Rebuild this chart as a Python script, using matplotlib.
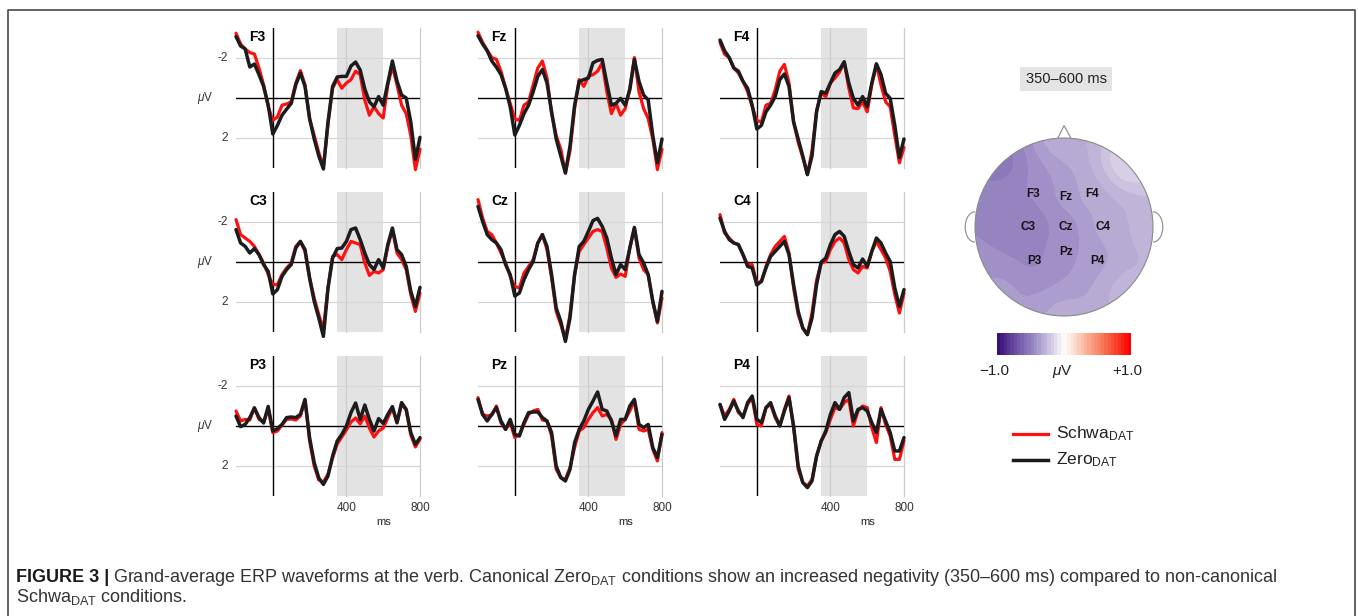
import numpy as np
import matplotlib
matplotlib.use("Agg")
import matplotlib.pyplot as plt
from matplotlib.colors import LinearSegmentedColormap, BoundaryNorm
from matplotlib.patches import Circle, Polygon, Arc
from matplotlib.lines import Line2D
from matplotlib.transforms import blended_transform_factory

plt.rcParams['font.family'] = 'Liberation Sans'
plt.rcParams['mathtext.fontset'] = 'custom'
plt.rcParams['mathtext.rm'] = 'Liberation Sans'
plt.rcParams['mathtext.it'] = 'Liberation Sans:italic'
plt.rcParams['mathtext.bf'] = 'Liberation Sans:bold'

# time axis (ms), one sample every 25 ms
times = np.arange(-200, 801, 25)

# grand averages in microvolts (negative plotted up)
f3_schwa = [-3.24, -2.7, -2.45, -2.27, -2.2, -1.5, -0.66, 0.44, 1.12, 0.95, 0.36, 0.3, 0.19, -0.75, -1.37, -0.66, 1.03, 1.88, 2.73, 3.45, 1.3, -0.49, -0.92, -0.49, -0.75, -0.92, -1.34, -1.17, 0.1, 0.86, 0.44, 0.78, 1.0, -0.66, -1.6, -0.66, 0.36, 0.78, 1.88, 3.58, 2.56]
f3_zero = [-3.07, -2.6, -2.45, -1.55, -1.7, -1.17, -0.58, 0.35, 1.8, 1.37, 0.86, 0.56, 0.27, -0.66, -1.25, -0.58, 1.03, 2.05, 2.9, 3.55, 1.2, -0.58, -1.05, -1.08, -1.08, -1.6, -1.8, -1.4, -0.45, 0.19, 0.44, -0.07, 0.36, -0.75, -1.85, -0.85, -0.15, 0.0, 1.2, 3.07, 1.97]
fz_schwa = [-3.29, -2.78, -2.39, -2.02, -1.93, -1.34, -0.49, 0.27, 1.03, 1.12, 0.36, 0.19, -0.66, -1.5, -1.85, -1.0, 0.78, 1.88, 2.56, 3.75, 2.64, 0.53, -0.92, -0.58, -1.08, -1.17, -1.34, -1.76, -0.32, 0.78, 0.27, 0.86, 0.53, -0.49, -2.02, -0.32, 0.53, 1.03, 2.05, 3.58, 2.56]
fz_zero = [-3.12, -2.7, -2.36, -1.85, -1.54, -1.17, -0.49, 0.44, 1.85, 1.37, 0.78, 0.36, -0.32, -1.08, -1.42, -0.75, 0.69, 2.05, 2.9, 3.75, 2.4, 0.36, -0.83, -0.92, -1.0, -1.76, -1.88, -1.93, -0.75, 0.36, 0.27, 0.02, 0.36, -0.41, -1.93, -0.83, -0.15, 0.1, 1.88, 3.24, 2.05]
f4_schwa = [-2.78, -2.19, -2.02, -1.5, -1.25, -0.83, -0.32, 0.44, 1.12, 1.2, 0.36, 0.27, -0.41, -1.34, -1.68, -0.75, 1.2, 2.22, 2.98, 3.83, 2.64, 0.61, -0.24, -0.07, -0.75, -1.0, -1.3, -1.81, -0.5, 0.5, 0.53, 0.19, 0.69, -0.66, -1.68, -0.66, 0.19, 0.44, 1.88, 3.24, 2.47]
f4_zero = [-2.9, -2.36, -2.02, -1.5, -1.34, -0.83, -0.49, 0.36, 1.55, 1.37, 0.69, 0.36, -0.07, -0.92, -1.2, -0.58, 1.2, 2.05, 2.9, 3.83, 2.9, 0.69, -0.32, -0.24, -0.75, -1.25, -1.42, -1.81, -0.75, 0.02, 0.36, -0.07, 0.44, -0.75, -1.71, -1.17, -0.24, 0.02, 1.37, 2.98, 2.05]
c3_schwa = [-2.12, -1.37, -1.2, -1.03, -0.78, -0.37, 0.05, 0.63, 1.13, 1.13, 0.63, 0.3, 0.05, -0.78, -1.03, -0.53, 0.8, 1.8, 2.63, 3.38, 1.3, -0.28, -0.37, -0.12, -0.62, -1.03, -0.95, -0.87, 0.05, 0.67, 0.47, 0.55, 0.38, -0.78, -1.62, -0.45, -0.12, 0.38, 1.63, 2.47, 1.55]
c3_zero = [-1.62, -0.95, -0.78, -0.45, -0.67, -0.37, 0.13, 0.47, 1.6, 1.38, 0.72, 0.38, 0.13, -0.7, -1.03, -0.62, 0.8, 1.97, 2.8, 3.72, 1.3, -0.2, -0.67, -0.7, -1.03, -1.62, -1.7, -1.12, -0.45, 0.13, 0.38, -0.12, 0.3, -0.87, -1.7, -0.62, -0.37, 0.22, 1.47, 2.22, 1.27]
cz_schwa = [-3.12, -2.2, -1.53, -1.37, -0.95, -0.45, 0.05, 0.72, 1.22, 1.3, 0.55, 0.22, -0.12, -0.95, -1.37, -0.62, 0.8, 2.47, 3.13, 3.88, 2.63, 0.63, -0.53, -0.87, -1.2, -1.53, -1.62, -1.53, -0.7, 0.3, 0.77, 0.6, 0.72, -0.7, -1.7, -0.2, 0.38, 0.63, 1.97, 3.05, 1.8]
cz_zero = [-2.78, -2.03, -1.37, -1.12, -0.95, -0.62, 0.13, 0.63, 1.7, 1.55, 0.88, 0.38, -0.03, -0.95, -1.37, -0.78, 0.63, 2.3, 2.97, 3.97, 2.8, 0.63, -0.78, -1.03, -1.53, -2.07, -2.18, -1.78, -1.2, -0.2, 0.63, 0.13, 0.38, -0.7, -1.73, -0.37, 0.05, 0.63, 1.97, 2.97, 1.47]
c4_schwa = [-2.37, -1.45, -1.2, -0.95, -0.87, -0.37, 0.13, 0.13, 1.05, 0.97, 0.22, -0.37, -0.78, -1.03, -1.28, -0.45, 1.3, 2.63, 3.3, 3.63, 2.55, 0.9, 0.05, -0.03, -0.62, -1.03, -1.2, -0.95, -0.12, 0.38, 0.55, 0.22, 0.3, -0.53, -1.03, -0.62, -0.2, 0.47, 1.63, 2.55, 1.55]
c4_zero = [-2.2, -1.53, -1.12, -0.95, -0.87, -0.37, 0.22, 0.3, 1.15, 0.97, 0.3, -0.28, -0.53, -0.78, -1.03, -0.37, 1.13, 2.47, 3.3, 3.63, 2.8, 1.13, 0.0, -0.2, -0.87, -1.37, -1.53, -1.28, -0.53, 0.13, 0.3, -0.15, 0.22, -0.53, -1.2, -0.95, -0.45, -0.03, 1.3, 2.22, 1.38]
p3_schwa = [-0.75, -0.25, -0.33, -0.3, -0.92, -0.33, -0.2, -0.85, 0.33, 0.25, -0.05, -0.33, -0.35, -0.3, -0.5, -1.3, 0.75, 2.0, 2.7, 2.8, 2.4, 1.6, 0.9, 0.55, 0.2, -0.2, -0.4, -0.1, -0.5, 0.1, 0.55, 0.25, 0.1, -0.4, -0.9, -0.15, -1.1, -0.8, 0.45, 1.05, 0.65]
p3_zero = [-0.5, 0.03, -0.08, -0.42, -0.9, -0.42, -0.15, -0.98, 0.25, 0.13, -0.08, -0.42, -0.45, -0.42, -0.58, -1.33, 0.58, 1.83, 2.6, 2.92, 2.5, 1.5, 0.75, 0.42, 0.0, -0.67, -1.15, -0.33, -1.05, -0.33, 0.25, -0.37, -0.13, -0.58, -0.97, -0.17, -1.17, -0.83, 0.33, 0.92, 0.58]
pz_schwa = [-1.42, -0.58, -0.5, -0.55, -1.0, -0.15, 0.17, -0.17, 0.58, 0.42, -0.08, -0.58, -0.75, -0.83, -0.3, -0.25, 0.5, 2.17, 2.58, 2.67, 2.08, 1.08, 0.25, 0.08, -0.33, -0.67, -0.92, -0.5, -0.58, -0.33, 0.67, -0.08, -0.33, -0.75, -1.25, 0.17, 0.25, 0.17, 1.17, 1.75, 0.33]
pz_zero = [-1.33, -0.58, -0.25, -0.58, -0.92, -0.25, 0.17, -0.33, 0.42, 0.5, -0.17, -0.67, -0.7, -0.7, -0.42, -0.25, 0.33, 2.0, 2.58, 2.75, 2.17, 0.83, 0.17, -0.25, -0.83, -1.25, -1.7, -0.83, -0.75, -0.25, 0.5, -0.33, -0.33, -1.0, -1.33, -0.08, 0.08, -0.08, 1.08, 1.58, 0.42]
p4_schwa = [-1.08, -0.5, -0.83, -1.33, -0.67, -0.5, -1.08, -1.42, -0.08, 0.0, -0.92, -1.08, -0.42, 0.0, -0.83, -1.5, 0.08, 2.17, 2.83, 3.0, 2.67, 1.5, 0.75, 0.33, -0.33, -0.92, -0.83, -1.17, -1.33, 0.0, -0.75, -1.0, -0.92, 0.08, 0.83, -0.92, -0.08, 0.5, 1.67, 1.67, 0.75]
p4_zero = [-1.08, -0.33, -0.75, -1.25, -0.75, -0.42, -1.17, -1.5, -0.33, -0.17, -0.92, -1.17, -0.5, 0.0, -0.75, -1.42, 0.0, 2.0, 2.83, 3.08, 2.75, 1.5, 0.75, 0.25, -0.58, -1.17, -0.83, -1.42, -1.67, -0.25, -0.83, -0.92, -0.75, -0.17, 0.33, -0.83, -0.25, 0.33, 1.25, 1.25, 0.58]

channels = ["F3", "Fz", "F4", "C3", "Cz", "C4", "P3", "Pz", "P4"]
schwa_data = [f3_schwa, fz_schwa, f4_schwa, c3_schwa, cz_schwa, c4_schwa, p3_schwa, pz_schwa, p4_schwa]
zero_data = [f3_zero, fz_zero, f4_zero, c3_zero, cz_zero, c4_zero, p3_zero, pz_zero, p4_zero]

# topography 350-600 ms: electrode positions (head units) and mean amplitude
elec_x = [-0.35, 0.02, 0.31, -0.40, 0.02, 0.44, -0.33, 0.02, 0.38]
elec_y = [0.37, 0.34, 0.37, 0.0, 0.0, 0.0, -0.38, -0.28, -0.38]
elec_val = [-0.45, -0.38, -0.3, -0.56, -0.45, -0.32, -0.47, -0.43, -0.36]
rim_angle = [90, 45, 0, -45, -90, -135, 180, 135]
rim_val = [-0.3, -0.1, -0.24, -0.25, -0.32, -0.38, -0.45, -0.55]

W, H = 1358, 616
fig = plt.figure(figsize=(W / 100, H / 100), dpi=100)


def px_rect(x0, y0, x1, y1):
    return [x0 / W, 1 - y1 / H, (x1 - x0) / W, (y1 - y0) / H]


# frame
fig.add_artist(Line2D([8 / W, 8 / W, 1354.5 / W, 1354.5 / W], [0, 1 - 10 / H, 1 - 10 / H, 0],
                      color='#555555', lw=1.3))

for i, name in enumerate(channels):
    r, c = divmod(i, 3)
    left = 236 + 242 * c
    top = 28 + 164 * r
    ax = fig.add_axes(px_rect(left, top, left + 184, top + 140))
    ax.set_xlim(-200, 800)
    ax.set_ylim(3.5, -3.5)
    ax.axis('off')
    ax.axvspan(350, 600, color='#e3e3e3', lw=0, zorder=0)
    for yv in (-2, 2):
        ax.axhline(yv, color='#d6d6d6', lw=0.9, zorder=1)
    for xv in (400, 800):
        ax.axvline(xv, color='#cccccc', lw=0.9, zorder=1, clip_on=False)
    ax.axhline(0, color='black', lw=1.0, zorder=2)
    ax.axvline(0, color='black', lw=1.0, zorder=2)
    ax.plot(times, schwa_data[i], color='#ff1010', lw=2.3, zorder=3, clip_on=False,
            solid_joinstyle='round', solid_capstyle='round')
    ax.plot(times, zero_data[i], color='#1c1c1c', lw=2.5, zorder=4, clip_on=False,
            solid_joinstyle='round', solid_capstyle='round')
    ax.text(0.07, 0.985, name, transform=ax.transAxes, ha='left', va='top',
            fontsize=10, fontweight='bold')
    if c == 0:
        tr = blended_transform_factory(ax.transAxes, ax.transData)
        ax.text(-0.045, -2, '-2', transform=tr, ha='right', va='center', fontsize=8.5, color='#333333')
        ax.text(-0.045, 2, '2', transform=tr, ha='right', va='center', fontsize=8.5, color='#333333')
        ax.text(-0.168, 0, r'$\mu$V', transform=tr, ha='center', va='center', fontsize=8.5, color='#333333')
    if r == 2:
        tr = blended_transform_factory(ax.transData, ax.transAxes)
        for xv in (400, 800):
            ax.text(xv, -0.086, str(xv), transform=tr, ha='center', va='center', fontsize=8.5, color='#333333')
        ax.text(600, -0.186, 'ms', transform=tr, ha='center', va='center', fontsize=8, color='#222222')

# topographic map
cx, cy, rad = 1064, 227, 89
hx0, hx1, hy0, hy1 = 955, 1175, 115, 335
axh = fig.add_axes(px_rect(hx0, hy0, hx1, hy1))
axh.set_xlim((hx0 - cx) / rad, (hx1 - cx) / rad)
axh.set_ylim((cy - hy1) / rad, (cy - hy0) / rad)
axh.axis('off')

pts_x = np.array(elec_x + list(np.cos(np.radians(rim_angle))))
pts_y = np.array(elec_y + list(np.sin(np.radians(rim_angle))))
pts_v = np.array(elec_val + rim_val)
gx, gy = np.meshgrid(np.linspace(-1.02, 1.02, 161), np.linspace(-1.02, 1.02, 161))
d2 = (gx[..., None] - pts_x) ** 2 + (gy[..., None] - pts_y) ** 2 + 0.06
wts = 1.0 / d2 ** 1.5
field = (wts * pts_v).sum(-1) / wts.sum(-1)

cmap = LinearSegmentedColormap.from_list('pw', [
    (0.0, '#3b0f7a'), (0.125, '#6a4ea3'), (0.25, '#9482c0'), (0.375, '#c8bedd'),
    (0.5, '#ffffff'), (0.625, '#fcc6b2'), (0.75, '#f98b6c'), (0.875, '#f84c33'), (1.0, '#ff0000')])
levels = np.linspace(-1, 1, 41)
norm = BoundaryNorm(levels, cmap.N)
cs = axh.contourf(gx, gy, field, levels=levels, cmap=cmap, norm=norm, zorder=1)
cs.set_clip_path(Circle((0, 0), 1.0, transform=axh.transData))
axh.add_patch(Circle((0, 0), 1.0, fill=False, ec='#8a8a8a', lw=0.8, zorder=3))
axh.add_patch(Polygon([(-0.07, 0.995), (0.0, 1.14), (0.08, 0.995)], closed=False, fill=False,
                      ec='#8a8a8a', lw=0.8, zorder=3))
axh.add_patch(Arc((-1.0, 0.0), 0.22, 0.34, theta1=90, theta2=270, ec='#8a8a8a', lw=0.8))
axh.add_patch(Arc((1.0, 0.0), 0.22, 0.34, theta1=-90, theta2=90, ec='#8a8a8a', lw=0.8))
for name, ex, ey in zip(channels, elec_x, elec_y):
    axh.text(ex, ey, name, ha='center', va='center', fontsize=8.5, fontweight='bold',
             color='#151515', zorder=4)

# title box
fig.text(1066 / W, 1 - 79 / H, '350\u2013600 ms', ha='center', va='center', fontsize=10.5, color='#222222',
         bbox=dict(boxstyle='square,pad=0.35', fc='#e4e4e4', ec='none'))

# colour bar
axc = fig.add_axes(px_rect(997, 333, 1131, 355))
cb_vals = np.linspace(-1, 1, 41)
axc.pcolormesh(cb_vals, [0, 1], np.array([0.5 * (cb_vals[:-1] + cb_vals[1:])]), cmap=cmap, norm=norm)
axc.axis('off')
fig.text(994 / W, 1 - 371 / H, '\u22121.0', ha='center', va='center', fontsize=11, color='#222222')
fig.text(1062 / W, 1 - 371 / H, r'$\mu$V', ha='center', va='center', fontsize=11, color='#222222')
fig.text(1127 / W, 1 - 371 / H, '+1.0', ha='center', va='center', fontsize=11, color='#222222')

# legend
fig.add_artist(Line2D([1013 / W, 1048 / W], [1 - 434 / H] * 2, color='#ff1010', lw=2.3))
fig.add_artist(Line2D([1013 / W, 1048 / W], [1 - 460 / H] * 2, color='#1c1c1c', lw=2.5))
fig.text(1056 / W, 1 - 434 / H, r'Schwa$_{\mathrm{DAT}}$', ha='left', va='center', fontsize=12.5, color='#222222')
fig.text(1056 / W, 1 - 460 / H, r'Zero$_{\mathrm{DAT}}$', ha='left', va='center', fontsize=12.5, color='#222222')

# caption
renderer = fig.canvas.get_renderer()
cap_size = 13
t1 = fig.text(16 / W, 1 - 582 / H, 'FIGURE 3 |', ha='left', va='baseline', fontsize=cap_size,
              fontweight='bold', color='#1a1a1a')
bb = t1.get_window_extent(renderer)
fig.text(bb.x1 / W + 4 / W, 1 - 582 / H,
         r'Grand-average ERP waveforms at the verb. Canonical Zero$_{\mathrm{DAT}}$ conditions show an '
         r'increased negativity (350–600 ms) compared to non-canonical',
         ha='left', va='baseline', fontsize=cap_size, color='#333333')
fig.text(16 / W, 1 - 602 / H, r'Schwa$_{\mathrm{DAT}}$ conditions.', ha='left', va='baseline',
         fontsize=cap_size, color='#333333')

fig.savefig('out.png', dpi=100)
